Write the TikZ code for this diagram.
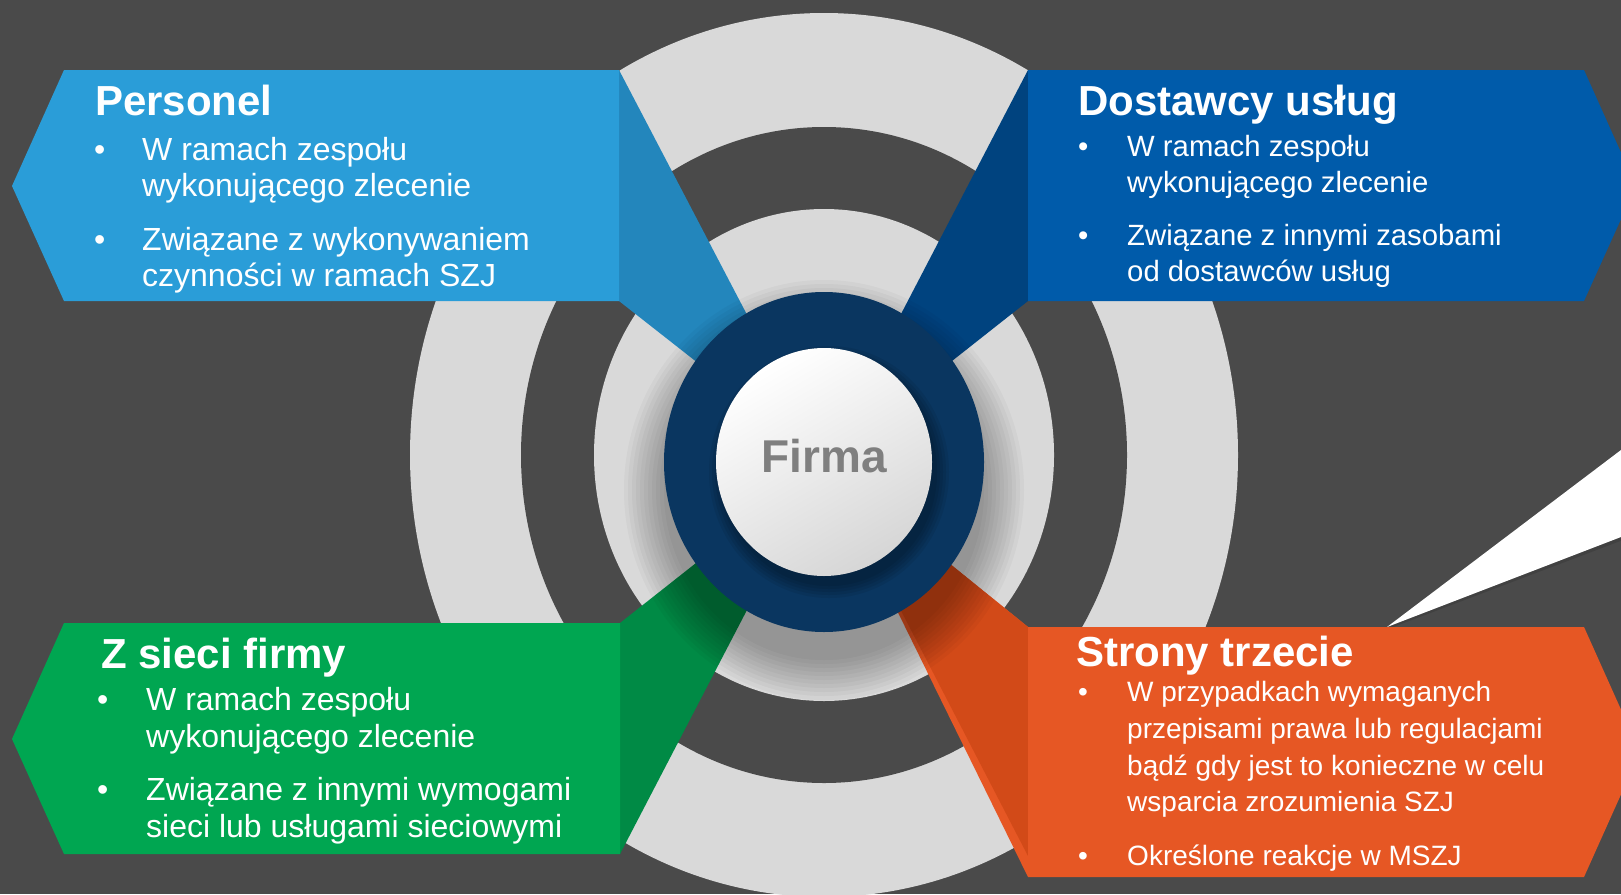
\documentclass[tikz,border=0pt]{standalone}
\usepackage{fontspec}
\setmainfont{Liberation Sans}
\usetikzlibrary{positioning}

\definecolor{bg}{HTML}{4A4A4A}
\definecolor{ring}{HTML}{D9D9D9}
\definecolor{navy}{HTML}{0A3660}
\definecolor{persblue}{HTML}{2A9DD8}
\definecolor{persdark}{HTML}{2386BC}
\definecolor{dostblue}{HTML}{005BAA}
\definecolor{dostdark}{HTML}{00437F}
\definecolor{siecgreen}{HTML}{00A651}
\definecolor{siecdark}{HTML}{008A45}
\definecolor{stronorange}{HTML}{E65724}
\definecolor{strondark}{HTML}{D24A18}
\definecolor{firmagray}{HTML}{7F7F7F}

% lines of one bullet, baseline = first line
\newcommand{\itemtext}[1]{\vtop{\halign{##\hfil\cr#1\crcr}}}

\begin{document}
\begin{tikzpicture}[x=1pt, y=-1pt,
    title/.style={anchor=base west, inner sep=0pt, text=white,
                  font=\bfseries\fontsize{42}{50}\selectfont},
    item/.style={anchor=base west, inner sep=0pt, text=white,
                 font=\fontsize{#1}{36.7}\selectfont}]

            \clip (0,0) rectangle (1621,894);
            \fill[bg] (0,0) rectangle (1621,894);

            % rings
            \coordinate (C) at (824,462);
            \fill[ring] (824,455) ellipse [x radius=414, y radius=442];
            \fill[bg] (824,455) ellipse [x radius=303, y radius=328];
            \fill[ring] (824,455) ellipse [x radius=230, y radius=246];

            % connectors to the centre
            \fill[persdark] (619,70) -- (C) -- (619,301) -- cycle;
            \fill[dostdark] (1028,70) -- (C) -- (1028,301) -- cycle;
            \fill[siecdark] (620,623) -- (C) -- (620,854) -- cycle;
            \fill[stronorange] (1028,627) -- (C) -- (1028,877) -- cycle;
            \fill[strondark] (1028,627) -- (C) -- (1028,856) -- cycle;

            % shadow of the ring
            \begin{scope}
              \clip (824,455) ellipse [x radius=230, y radius=246];
              \foreach \s in {0,4,...,40}
                \fill[black, opacity=0.03] (824,490) ellipse [x radius=160+\s, y radius=170+\s];
            \end{scope}

            \fill[navy] (C) ellipse [x radius=160, y radius=170];
            \begin{scope}
              \clip (C) ellipse [x radius=160, y radius=170];
              \foreach \s in {0,3,...,12}
                \fill[black, opacity=0.07] (829,472) ellipse [x radius=108+\s, y radius=114+\s];
            \end{scope}
            \shade[top color=white, bottom color=white!84!black, shading angle=30]
                (C) ellipse [x radius=108, y radius=114];
            \node (firma) [anchor=base, text=firmagray,
                           font=\bfseries\fontsize{46}{50}\selectfont] at (824,472) {Firma};

            % pointer
            \fill[black, opacity=0.12] (1388,629) -- (1623,451) -- (1623,540) -- cycle;
            \fill[white] (1387,627) -- (1621,450) -- (1621,537) -- cycle;

            % panels
            \fill[persblue] (12,186) -- (64,70) -- (619,70) -- (619,301) -- (64,301) -- cycle;
            \fill[dostblue] (1028,70) -- (1584,70) -- (1636,186) -- (1584,301) -- (1028,301) -- cycle;
            \fill[siecgreen] (12,739) -- (64,623) -- (620,623) -- (620,854) -- (64,854) -- cycle;
            \fill[stronorange] (1028,627) -- (1584,627) -- (1640,752) -- (1584,877) -- (1028,877) -- cycle;

            % Personel
            \node (pers) [title] at (95,115) {Personel};
            \node (persAdot) [item=32] at (94,160) {•};
            \node (persA) [item=32] at (142,160) {\itemtext{W ramach zespołu\cr wykonującego zlecenie}};
            \node (persBdot) [item=32] at (94,250) {•};
            \node (persB) [item=32] at (142,250) {\itemtext{Związane z wykonywaniem\cr czynności w ramach SZJ}};

            % Dostawcy
            \node (dost) [title] at (1078,115) {Dostawcy usług};
            \node (dostAdot) [item=29.3] at (1078,156) {•};
            \node (dostA) [item=29.3] at (1127,156) {\itemtext{W ramach zespołu\cr wykonującego zlecenie}};
            \node (dostBdot) [item=29.3] at (1078,245) {•};
            \node (dostB) [item=29.3] at (1127,245) {\itemtext{Związane z innymi zasobami\cr od dostawców usług}};

            % Z sieci
            \node (siec) [title] at (101,668) {Z sieci firmy};
            \node (siecAdot) [item=32] at (97,710.7) {•};
            \node (siecA) [item=32] at (146,710.7) {\itemtext{W ramach zespołu\cr wykonującego zlecenie}};
            \node (siecBdot) [item=32] at (97,800.7) {•};
            \node (siecB) [item=32] at (146,800.7) {\itemtext{Związane z innymi wymogami\cr sieci lub usługami sieciowymi}};

            % Strony trzecie
            \node (stron) [title] at (1076,666) {Strony trzecie};
            \node (stronAdot) [item=28] at (1078,701.7) {•};
            \node (stronA) [item=28] at (1127,701.7) {\itemtext{W przypadkach wymaganych\cr
                przepisami prawa lub regulacjami\cr bądź gdy jest to konieczne w celu\cr
                wsparcia zrozumienia SZJ}};
            \node (stronBdot) [item=28] at (1078,865) {•};
            \node (stronB) [item=28] at (1127,865) {Określone reakcje w MSZJ};
\end{tikzpicture}
\end{document}
